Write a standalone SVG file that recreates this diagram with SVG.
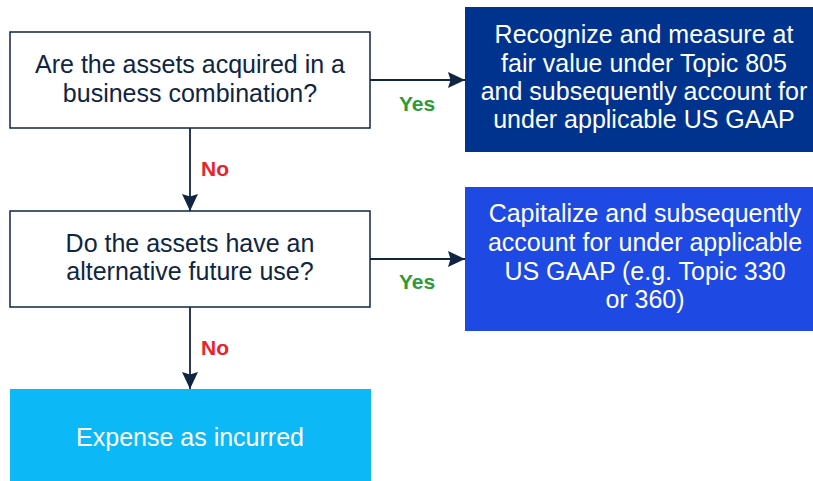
<svg xmlns="http://www.w3.org/2000/svg" width="813" height="481" viewBox="0 0 813 481">
<style>
.t{font-family:"Liberation Sans",Arial,sans-serif;font-size:25px;text-anchor:middle}
.dk{fill:#0F2541}
.wh{fill:#FFFFFF}
.yes{font-family:"Liberation Sans",Arial,sans-serif;font-size:21px;font-weight:bold;fill:#2E9B33}
.no{font-family:"Liberation Sans",Arial,sans-serif;font-size:21px;font-weight:bold;fill:#E8242B}
.q{fill:#FFFFFF;stroke:#0F2541;stroke-width:1.5}
.c{stroke:#0F2541;stroke-width:1.8;fill:none;marker-end:url(#ah)}
</style>
<defs>
<marker id="ah" viewBox="0 0 17 16" refX="17" refY="8" markerWidth="17" markerHeight="16" markerUnits="userSpaceOnUse" orient="auto">
<path d="M0,0 L17,8 L0,16 L2.5,8 Z" fill="#0F2541"/>
</marker>
</defs>
<rect width="813" height="481" fill="#FFFFFF"/>
<g id="connectors">
<line class="c" x1="370" y1="80" x2="465" y2="80"/>
<line class="c" x1="190" y1="128" x2="190" y2="211"/>
<line class="c" x1="370" y1="259" x2="465" y2="259"/>
<line class="c" x1="190" y1="307" x2="190" y2="389"/>
<text class="yes" x="399" y="111">Yes</text>
<text class="no" x="201" y="176">No</text>
<text class="yes" x="399" y="289">Yes</text>
<text class="no" x="201" y="355">No</text>
</g>
<g id="q1">
<rect class="q" x="10" y="32" width="360" height="96"/>
<text class="t dk" x="190" y="73">Are the assets acquired in a</text>
<text class="t dk" x="190" y="102">business combination?</text>
</g>
<g id="r1">
<rect x="465" y="7" width="348" height="145" fill="#00338D"/>
<text class="t wh" x="644" y="43">Recognize and measure at</text>
<text class="t wh" x="644" y="72">fair value under Topic 805</text>
<text class="t wh" x="644" y="100">and subsequently account for</text>
<text class="t wh" x="644" y="128">under applicable US GAAP</text>
</g>
<g id="q2">
<rect class="q" x="10" y="211" width="360" height="96"/>
<text class="t dk" x="190" y="252">Do the assets have an</text>
<text class="t dk" x="190" y="280">alternative future use?</text>
</g>
<g id="r2">
<rect x="465" y="187" width="348" height="144" fill="#1E49E2"/>
<text class="t wh" x="645" y="222">Capitalize and subsequently</text>
<text class="t wh" x="645" y="251">account for under applicable</text>
<text class="t wh" x="645" y="280">US GAAP (e.g. Topic 330</text>
<text class="t wh" x="645" y="308">or 360)</text>
</g>
<g id="r3">
<rect x="10" y="389" width="361" height="92" fill="#0CB8F5"/>
<text class="t wh" x="190" y="446">Expense as incurred</text>
</g>
</svg>
